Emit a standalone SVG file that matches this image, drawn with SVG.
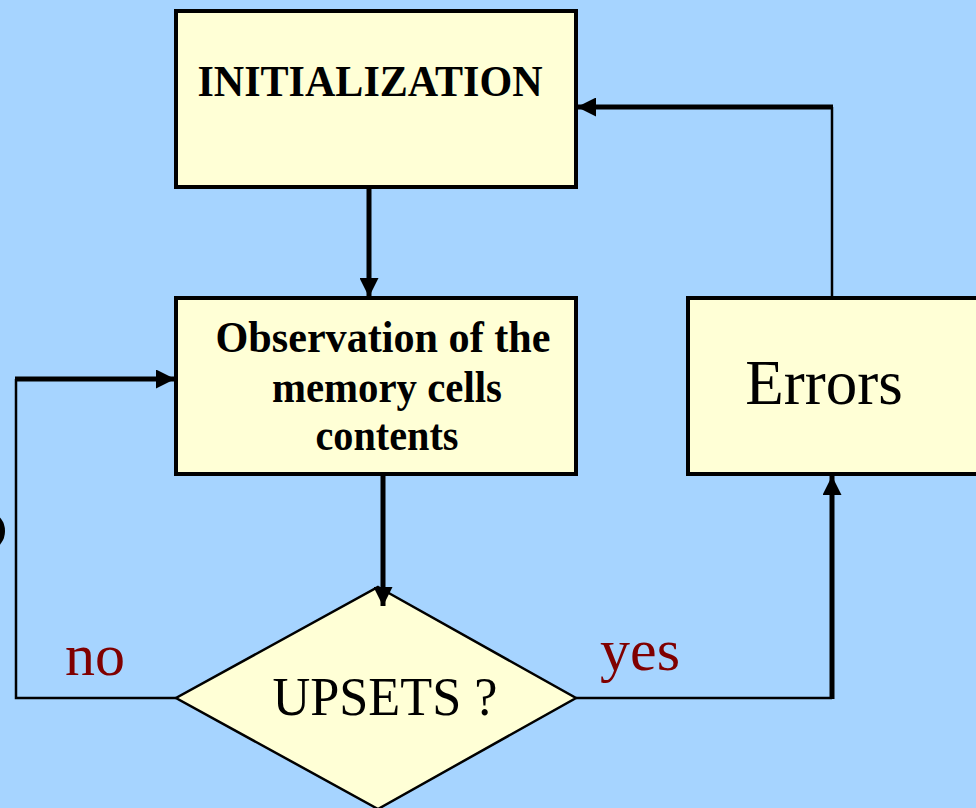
<svg xmlns="http://www.w3.org/2000/svg" width="976" height="808" viewBox="0 0 976 808">
<defs>
<style>
.box{fill:#FFFFD6;stroke:#000;stroke-width:4}
.dia{fill:#FFFFD6;stroke:#000;stroke-width:2.5}
.b{font-family:"Liberation Serif","Times New Roman",serif;font-weight:bold;fill:#000}
.r{font-family:"Liberation Serif","Times New Roman",serif;fill:#000}
.lab{font-family:"Liberation Serif","Times New Roman",serif;fill:#800000;font-size:60px}
.thick{fill:none;stroke:#000;stroke-width:5}
.thin{fill:none;stroke:#000;stroke-width:2.5}
</style>
<marker id="ah" viewBox="0 0 10 10" refX="10" refY="5" markerWidth="19" markerHeight="19" markerUnits="userSpaceOnUse" orient="auto">
<path d="M0,0 L10,5 L0,10 Z" fill="#000"/>
</marker>
</defs>
<rect x="0" y="0" width="976" height="808" fill="#A6D4FF"/>
<ellipse cx="-8" cy="531" rx="13" ry="17" fill="#000"/>
<g id="init">
<rect class="box" x="176" y="11" width="400" height="176"/>
<text class="b" x="370" y="96" font-size="45" text-anchor="middle" textLength="345" lengthAdjust="spacingAndGlyphs">INITIALIZATION</text>
</g>
<g id="observation">
<rect class="box" x="176" y="298" width="400" height="176"/>
<text class="b" x="383" y="352" font-size="44" text-anchor="middle" textLength="335" lengthAdjust="spacingAndGlyphs">Observation of the</text>
<text class="b" x="387" y="402" font-size="44" text-anchor="middle" textLength="230" lengthAdjust="spacingAndGlyphs">memory cells</text>
<text class="b" x="387" y="450" font-size="44" text-anchor="middle" textLength="143" lengthAdjust="spacingAndGlyphs">contents</text>
</g>
<g id="errors">
<rect class="box" x="688" y="298" width="290" height="176"/>
<text class="r" x="824" y="404" font-size="63" text-anchor="middle">Errors</text>
</g>
<g id="upsets">
<polygon class="dia" points="378,587 576,698 378,809 176,698"/>
<text class="r" x="385" y="715" font-size="55" text-anchor="middle" textLength="225" lengthAdjust="spacingAndGlyphs">UPSETS ?</text>
</g>
<text class="lab" x="65" y="675">no</text>
<text class="lab" x="600" y="670">yes</text>
<g id="connectors">
<line class="thick" x1="369" y1="189" x2="369" y2="297" marker-end="url(#ah)"/>
<line class="thick" x1="383" y1="476" x2="383" y2="606" marker-end="url(#ah)"/>
<polyline class="thin" points="176,698 16,698 16,379"/>
<line class="thick" x1="15" y1="379" x2="175" y2="379" marker-end="url(#ah)"/>
<line class="thin" x1="576" y1="698" x2="832" y2="698"/>
<line class="thick" x1="832" y1="699" x2="832" y2="476" marker-end="url(#ah)"/>
<line class="thin" x1="832" y1="296" x2="832" y2="107"/>
<line class="thick" x1="833" y1="107" x2="577" y2="107" marker-end="url(#ah)"/>
</g>
</svg>
